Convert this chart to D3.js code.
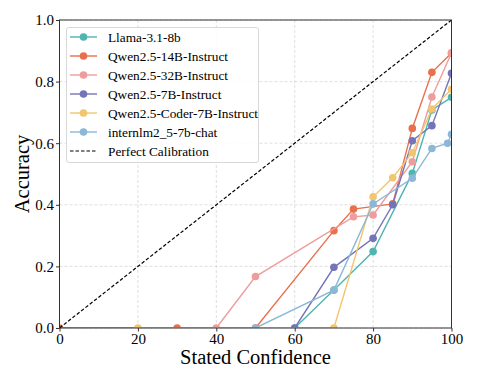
<!DOCTYPE html>
<html>
<head>
<meta charset="utf-8">
<script src="https://cdn.jsdelivr.net/npm/d3@7"></script>
<style>
  html, body { margin: 0; padding: 0; background: #fff; }
</style>
</head>
<body>
<div id="chart"></div>
<script>
/*global d3:false */

var seriesNames = [
  'Llama-3.1-8b',
  'Qwen2.5-14B-Instruct',
  'Qwen2.5-32B-Instruct',
  'Qwen2.5-7B-Instruct',
  'Qwen2.5-Coder-7B-Instruct',
  'internlm2_5-7b-chat'
];

var seriesColors = ['#4fb5b1', '#e9704d', '#ef9c9c', '#7474b9', '#f2c56f', '#8cb8d8'];

// stated confidence (x) and accuracy (y) for each model
var llamaConf   = [60, 70, 80, 90, 95, 100];
var llamaAcc    = [0, 0.123, 0.248, 0.502, 0.708, 0.749];

var q14Conf     = [0, 30, 50, 70, 75, 85, 90, 95, 100];
var q14Acc      = [0, 0, 0, 0.316, 0.386, 0.403, 0.648, 0.83, 0.893];

var q32Conf     = [40, 50, 75, 80, 90, 95, 100];
var q32Acc      = [0, 0.167, 0.361, 0.367, 0.54, 0.75, 0.893];

var q7Conf      = [60, 70, 80, 85, 90, 95, 100];
var q7Acc       = [0, 0.197, 0.291, 0.40, 0.608, 0.657, 0.827];

var coderConf   = [20, 70, 80, 85, 90, 95, 100];
var coderAcc    = [0, 0, 0.426, 0.488, 0.569, 0.711, 0.775];

var internConf  = [50, 70, 80, 90, 95, 99, 100];
var internAcc   = [0, 0.123, 0.403, 0.486, 0.583, 0.60, 0.629];

var xTicks = [0, 20, 40, 60, 80, 100];
var yTicks = [0, 0.2, 0.4, 0.6, 0.8, 1.0];

(function() {

  var width = 478, height = 383;
  var margin = {left: 59.5, right: 26.5, top: 20, bottom: 55};
  var serif = '"Liberation Serif", "Times New Roman", serif';

  var allConf = [llamaConf, q14Conf, q32Conf, q7Conf, coderConf, internConf];
  var allAcc  = [llamaAcc, q14Acc, q32Acc, q7Acc, coderAcc, internAcc];

  var series = seriesNames.map(function(name, i) {
    return {
      name  : name,
      color : seriesColors[i],
      pts   : allConf[i].map(function(c, j) { return [c, allAcc[i][j]]; })
    };
  });

  var svg = d3.select('#chart').append('svg')
      .attr('width', width)
      .attr('height', height);

  var x = d3.scaleLinear().domain([0, 100]).range([margin.left, width - margin.right]);
  var y = d3.scaleLinear().domain([0, 1]).range([height - margin.bottom, margin.top]);

  svg.append('defs').append('clipPath').attr('id', 'plotclip')
    .append('rect')
      .attr('x', x(0)).attr('y', y(1))
      .attr('width', x(100) - x(0)).attr('height', y(0) - y(1));

  // grid
  var grid = svg.append('g');
  grid.selectAll('line.gx').data(xTicks).enter().append('line')
      .attr('x1', function(d) { return x(d); }).attr('x2', function(d) { return x(d); })
      .attr('y1', y(0)).attr('y2', y(1));
  grid.selectAll('line.gy').data(yTicks).enter().append('line')
      .attr('y1', function(d) { return y(d); }).attr('y2', function(d) { return y(d); })
      .attr('x1', x(0)).attr('x2', x(100));
  grid.selectAll('line')
      .attr('stroke', '#d6d6d6')
      .attr('stroke-width', 0.8)
      .attr('stroke-dasharray', '3,2');

  var plot = svg.append('g').attr('clip-path', 'url(#plotclip)');

  var line = d3.line()
      .x(function(d) { return x(d[0]); })
      .y(function(d) { return y(d[1]); });

  series.forEach(function(s) {
    var g = plot.append('g');
    g.append('path')
        .datum(s.pts)
        .attr('d', line)
        .attr('fill', 'none')
        .attr('stroke', s.color)
        .attr('stroke-width', 1.4);
    g.selectAll('circle').data(s.pts).enter().append('circle')
        .attr('cx', function(d) { return x(d[0]); })
        .attr('cy', function(d) { return y(d[1]); })
        .attr('r', 3.8)
        .attr('fill', s.color);
  });

  // perfect calibration diagonal
  plot.append('path')
      .datum([[0, 0], [100, 1]])
      .attr('d', line)
      .attr('fill', 'none')
      .attr('stroke', '#000')
      .attr('stroke-width', 1.2)
      .attr('stroke-dasharray', '3.5,2');

  // frame
  svg.append('rect')
      .attr('x', x(0)).attr('y', y(1))
      .attr('width', x(100) - x(0)).attr('height', y(0) - y(1))
      .attr('fill', 'none')
      .attr('stroke', '#333')
      .attr('stroke-width', 1);

  var xAxis = svg.append('g')
      .attr('transform', 'translate(0,' + y(0) + ')')
      .call(d3.axisBottom(x).tickValues(xTicks).tickSize(3.5).tickPadding(2).tickFormat(d3.format('d')));
  var yAxis = svg.append('g')
      .attr('transform', 'translate(' + x(0) + ',0)')
      .call(d3.axisLeft(y).tickValues(yTicks).tickSize(3.5).tickPadding(2).tickFormat(d3.format('.1f')));

  [xAxis, yAxis].forEach(function(a) {
    a.select('.domain').remove();
    a.selectAll('line').attr('stroke', '#333');
    a.selectAll('text')
        .style('font-family', serif)
        .style('font-size', '15px')
        .attr('fill', '#000');
  });

  svg.append('text')
      .attr('x', (x(0) + x(100)) / 2)
      .attr('y', 364)
      .attr('text-anchor', 'middle')
      .style('font-family', serif)
      .style('font-size', '20.5px')
      .text('Stated Confidence');

  svg.append('text')
      .attr('transform', 'translate(29,' + ((y(0) + y(1)) / 2) + ') rotate(-90)')
      .attr('text-anchor', 'middle')
      .style('font-family', serif)
      .style('font-size', '20.5px')
      .text('Accuracy');

  // legend
  var legend = svg.append('g');
  legend.append('rect')
      .attr('x', 66.5).attr('y', 27.5)
      .attr('width', 192).attr('height', 135)
      .attr('rx', 2.5)
      .attr('fill', '#fff')
      .attr('fill-opacity', 0.85)
      .attr('stroke', '#d8d8d8')
      .attr('stroke-width', 1);

  var items = series.map(function(s) { return {name: s.name, color: s.color, dashed: false}; });
  items.push({name: 'Perfect Calibration', color: '#000', dashed: true});

  var rows = legend.selectAll('g.row').data(items).enter().append('g')
      .attr('transform', function(d, i) { return 'translate(0,' + (37 + i * 19) + ')'; });

  rows.append('line')
      .attr('x1', 70).attr('x2', 97)
      .attr('stroke', function(d) { return d.color; })
      .attr('stroke-width', function(d) { return d.dashed ? 1.2 : 1.4; })
      .attr('stroke-dasharray', function(d) { return d.dashed ? '3.5,2' : null; });

  rows.filter(function(d) { return !d.dashed; }).append('circle')
      .attr('cx', 83.5).attr('r', 3.8)
      .attr('fill', function(d) { return d.color; });

  rows.append('text')
      .attr('x', 108)
      .attr('dy', '0.35em')
      .style('font-family', serif)
      .style('font-size', '13.3px')
      .text(function(d) { return d.name; });

}());
</script>
</body>
</html>
